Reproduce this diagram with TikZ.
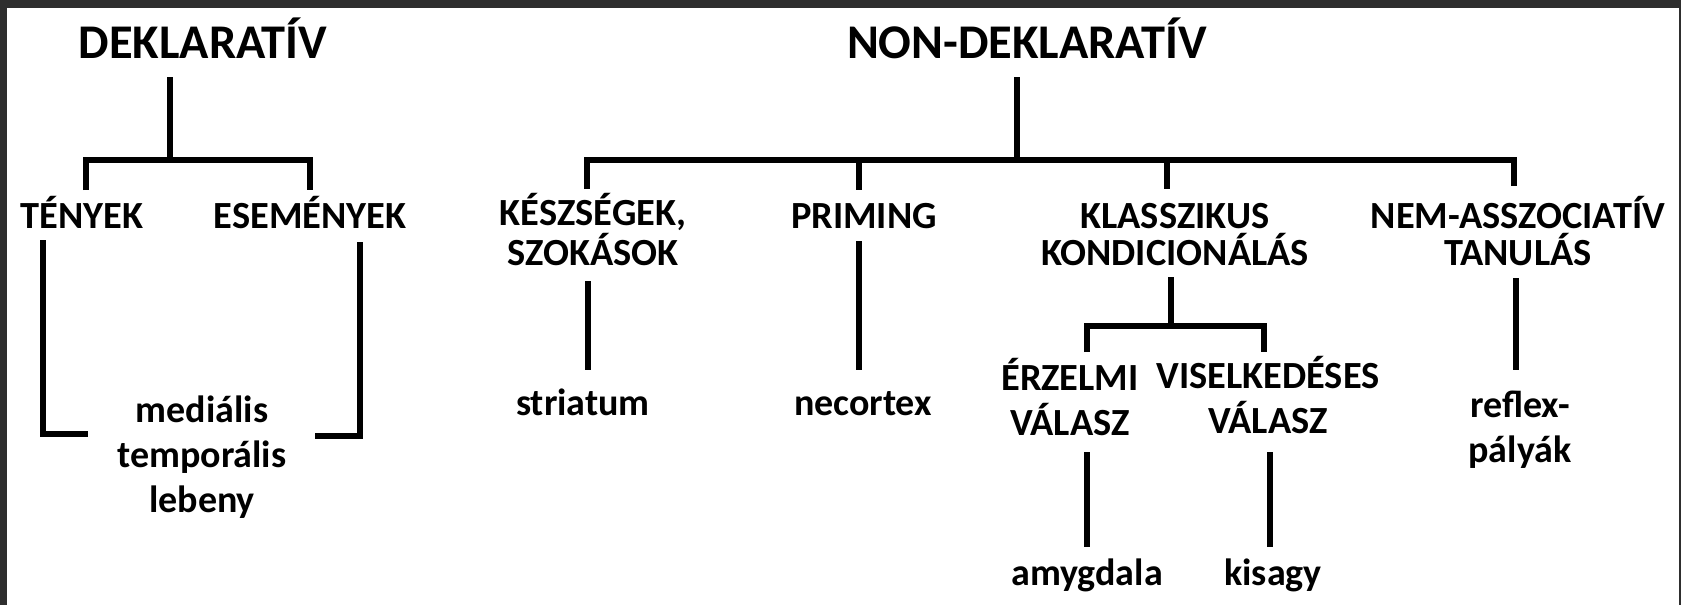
\documentclass[tikz,border=0pt]{standalone}
\usepackage{fontspec}
\setmainfont{Carlito}
\begin{document}
\begin{tikzpicture}[x=0.5pt,y=-0.5pt,
  conn/.style={line width=3pt, line join=miter, line cap=butt},
  title/.style={font=\fontsize{24.2pt}{28pt}\selectfont\bfseries, inner sep=0pt, anchor=base, align=center},
  lbl/.style={font=\fontsize{19.2pt}{18.5pt}\selectfont\bfseries, inner sep=0pt, anchor=base, align=center},
  leaf/.style={font=\fontsize{19pt}{22.5pt}\selectfont\bfseries, inner sep=0pt, anchor=base, align=center}]
\fill[black!82] (0,0) rectangle (1681,605);
\fill[white] (7,8) rectangle (1679,605);
\useasboundingbox (0,0) rectangle (1681,605);
% nodes (base = baseline of the last line)
\node[title] (dekl) at (203,58) {DEKLARATÍV};
\node[title] (nondekl) at (1027,58) {NON-DEKLARATÍV};
\node[lbl] (teny) at (82,228) {TÉNYEK};
\node[lbl] (esem) at (310,228) {ESEMÉNYEK};
\node[lbl] (kesz) at (593,265) {KÉSZSÉGEK,\\SZOKÁSOK};
\node[lbl] (prim) at (864,228) {PRIMING};
\node[lbl] (klassz) at (1175,265) {KLASSZIKUS\\KONDICIONÁLÁS};
\node[lbl] (nemassz) at (1518,265) {NEM-ASSZOCIATÍV\\TANULÁS};
\node[leaf] (medial) at (202,512) {mediális\\temporális\\lebeny};
\node[leaf] (striat) at (583,415) {striatum};
\node[leaf] (necort) at (863,415) {necortex};
\node[lbl, font=\fontsize{19.2pt}{22.5pt}\selectfont\bfseries] (erz) at (1070,435) {ÉRZELMI\\VÁLASZ};
\node[lbl, font=\fontsize{19.2pt}{22.5pt}\selectfont\bfseries] (visel) at (1268,433) {VISELKEDÉSES\\VÁLASZ};
\node[leaf] (reflex) at (1520,462) {reflex-\\pályák};
\node[leaf] (amyg) at (1087,585) {amygdala};
\node[leaf] (kisagy) at (1273,585) {kisagy};
% connector end points
\coordinate (dekl-o) at (170,77);
\coordinate (dekl-j) at (170,160);
\coordinate (teny-i) at (86,190);
\coordinate (esem-i) at (310,190);
\coordinate (teny-o) at (43,240);
\coordinate (esem-o) at (360,242);
\coordinate (medial-l) at (88,434);
\coordinate (medial-r) at (315,436);
\coordinate (nondekl-o) at (1017,77);
\coordinate (nondekl-j) at (1017,160);
\coordinate (kesz-i) at (587,189);
\coordinate (prim-i) at (859,190);
\coordinate (klassz-i) at (1167,189);
\coordinate (nemassz-i) at (1514,186);
\coordinate (kesz-o) at (588,281);
\coordinate (striat-i) at (588,370);
\coordinate (prim-o) at (859,241);
\coordinate (necort-i) at (859,370);
\coordinate (klassz-o) at (1171,277);
\coordinate (klassz-j) at (1171,326);
\coordinate (erz-i) at (1087,352);
\coordinate (visel-i) at (1264,352);
\coordinate (erz-o) at (1087,452);
\coordinate (amyg-i) at (1087,547);
\coordinate (visel-o) at (1270,452);
\coordinate (kisagy-i) at (1270,547);
\coordinate (nemassz-o) at (1516,278);
\coordinate (reflex-i) at (1516,370);
% connectors
\draw[conn] (dekl-o) -- (dekl-j);
\draw[conn] (teny-i) |- (dekl-j) -| (esem-i);
\draw[conn] (teny-o) |- (medial-l);
\draw[conn] (esem-o) |- (medial-r);
\draw[conn] (nondekl-o) -- (nondekl-j);
\draw[conn] (kesz-i) |- (nondekl-j) -| (nemassz-i);
\draw[conn] (prim-i |- nondekl-j) -- (prim-i);
\draw[conn] (klassz-i |- nondekl-j) -- (klassz-i);
\draw[conn] (kesz-o) -- (striat-i);
\draw[conn] (prim-o) -- (necort-i);
\draw[conn] (klassz-o) -- (klassz-j);
\draw[conn] (erz-i) |- (klassz-j) -| (visel-i);
\draw[conn] (erz-o) -- (amyg-i);
\draw[conn] (visel-o) -- (kisagy-i);
\draw[conn] (nemassz-o) -- (reflex-i);
\end{tikzpicture}
\end{document}
